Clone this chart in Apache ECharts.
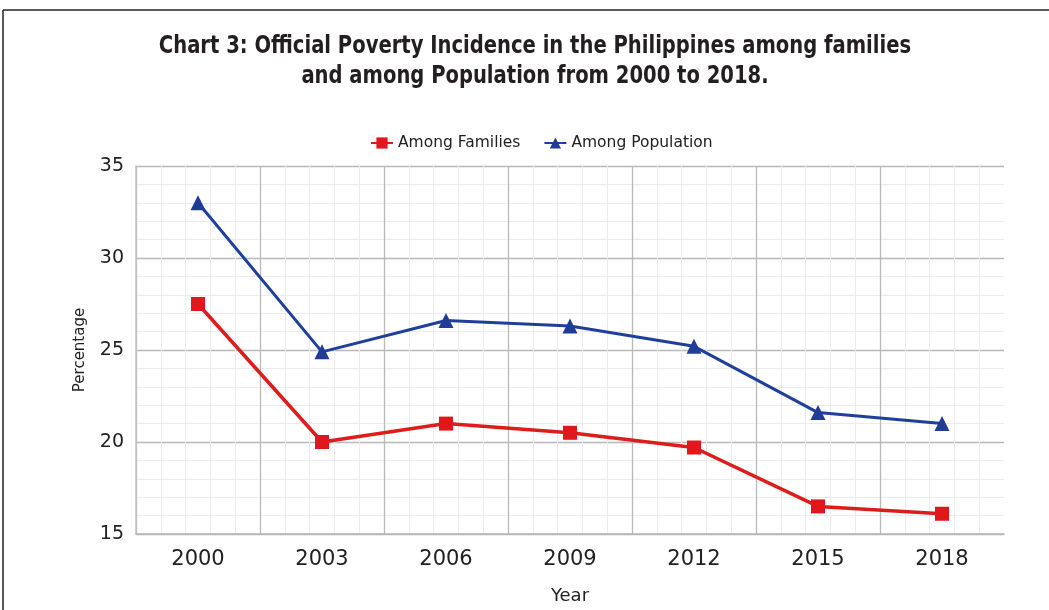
<!DOCTYPE html>
<html>
<head>
<meta charset="utf-8">
<script src="https://cdn.jsdelivr.net/npm/echarts@6/dist/echarts.min.js"></script>
<style>
html,body{margin:0;padding:0;background:#fff;overflow:hidden;}
#chart{width:1049px;height:610px;}
</style>
</head>
<body>
<div id="chart"></div>
<script>
const years = ['2000','2003','2006','2009','2012','2015','2018'];
const amongFamilies = [27.5, 20.0, 21.0, 20.5, 19.7, 16.5, 16.1];
const amongPopulation = [33.0, 24.9, 26.6, 26.3, 25.2, 21.6, 21.0];
const yTicks = [15, 20, 25, 30, 35];
const titleLines = [
  'Chart 3: Official Poverty Incidence in the Philippines among families',
  'and among Population from 2000 to 2018.'
];

const chart = echarts.init(document.getElementById('chart'));
const axisFont = '"DejaVu Sans", sans-serif';
const titleFont = 'bold 25px "DejaVu Sans Condensed", "DejaVu Sans", sans-serif';
chart.setOption({
  backgroundColor: '#ffffff',
  animation: false,
  graphic: [
    { type: 'line', shape: { x1: 3, y1: 10, x2: 1049, y2: 10 }, style: { stroke: '#222', lineWidth: 1.5 } },
    { type: 'line', shape: { x1: 3, y1: 10, x2: 3, y2: 620 }, style: { stroke: '#222', lineWidth: 1.5 } },
    { type: 'text', x: 535, y: 46, scaleX: 0.87, originX: 0, originY: 0,
      style: { text: titleLines[0], font: titleFont, fill: '#231f20', textAlign: 'center', textVerticalAlign: 'middle' } },
    { type: 'text', x: 535, y: 76, scaleX: 0.87, originX: 0, originY: 0,
      style: { text: titleLines[1], font: titleFont, fill: '#231f20', textAlign: 'center', textVerticalAlign: 'middle' } }
  ],
  legend: {
    top: 130,
    left: 365,
    itemGap: 23,
    itemWidth: 22,
    itemHeight: 14,
    textStyle: { fontFamily: axisFont, fontSize: 15.5, color: '#222' },
    data: ['Among Families', 'Among Population']
  },
  grid: { left: 136, right: 45, top: 166, height: 369 },
  xAxis: [
    {
      type: 'category',
      data: years,
      boundaryGap: true,
      name: 'Year',
      nameLocation: 'middle',
      nameGap: 53,
      nameTextStyle: { fontFamily: axisFont, fontSize: 18, color: '#222' },
      axisLine: { show: true, lineStyle: { color: '#b5b5b5', width: 1.5 } },
      axisTick: { show: false },
      splitLine: { show: false },
      axisLabel: { fontFamily: axisFont, fontSize: 21, color: '#222', margin: 15 }
    },
    {
      type: 'value',
      min: 0, max: 7, interval: 1,
      show: true,
      position: 'top',
      axisLine: { show: false },
      axisTick: { show: false },
      axisLabel: { show: false },
      splitLine: { show: true, showMaxLine: false, lineStyle: { color: '#b9b9b9', width: 1.3 } },
      minorTick: { show: false, splitNumber: 5 },
      minorSplitLine: { show: true, lineStyle: { color: '#ececec', width: 1 } }
    }
  ],
  yAxis: {
    type: 'value',
    min: 15, max: 35, interval: 5,
    name: 'Percentage',
    nameLocation: 'middle',
    nameGap: 48,
    nameTextStyle: { fontFamily: axisFont, fontSize: 15, color: '#222' },
    axisLine: { show: true, lineStyle: { color: '#c4c4c4', width: 1.5 } },
    axisTick: { show: false },
    axisLabel: { fontFamily: axisFont, fontSize: 19, color: '#222', margin: 12,
      formatter: v => yTicks.includes(v) ? String(v) : '' },
    splitLine: { show: true, lineStyle: { color: '#b9b9b9', width: 1.3 } },
    minorTick: { show: false, splitNumber: 5 },
    minorSplitLine: { show: true, lineStyle: { color: '#ececec', width: 1 } }
  },
  series: [
    {
      name: 'Among Families',
      type: 'line',
      xAxisIndex: 0,
      data: amongFamilies,
      symbol: 'rect',
      symbolSize: 14,
      itemStyle: { color: '#e0181c' },
      lineStyle: { color: '#dd1c1c', width: 3.5 },
      z: 3
    },
    {
      name: 'Among Population',
      type: 'line',
      xAxisIndex: 0,
      data: amongPopulation,
      symbol: 'triangle',
      symbolSize: 15,
      itemStyle: { color: '#1f3d98' },
      lineStyle: { color: '#1f3f9c', width: 3 },
      z: 3
    }
  ]
});
</script>
</body>
</html>
